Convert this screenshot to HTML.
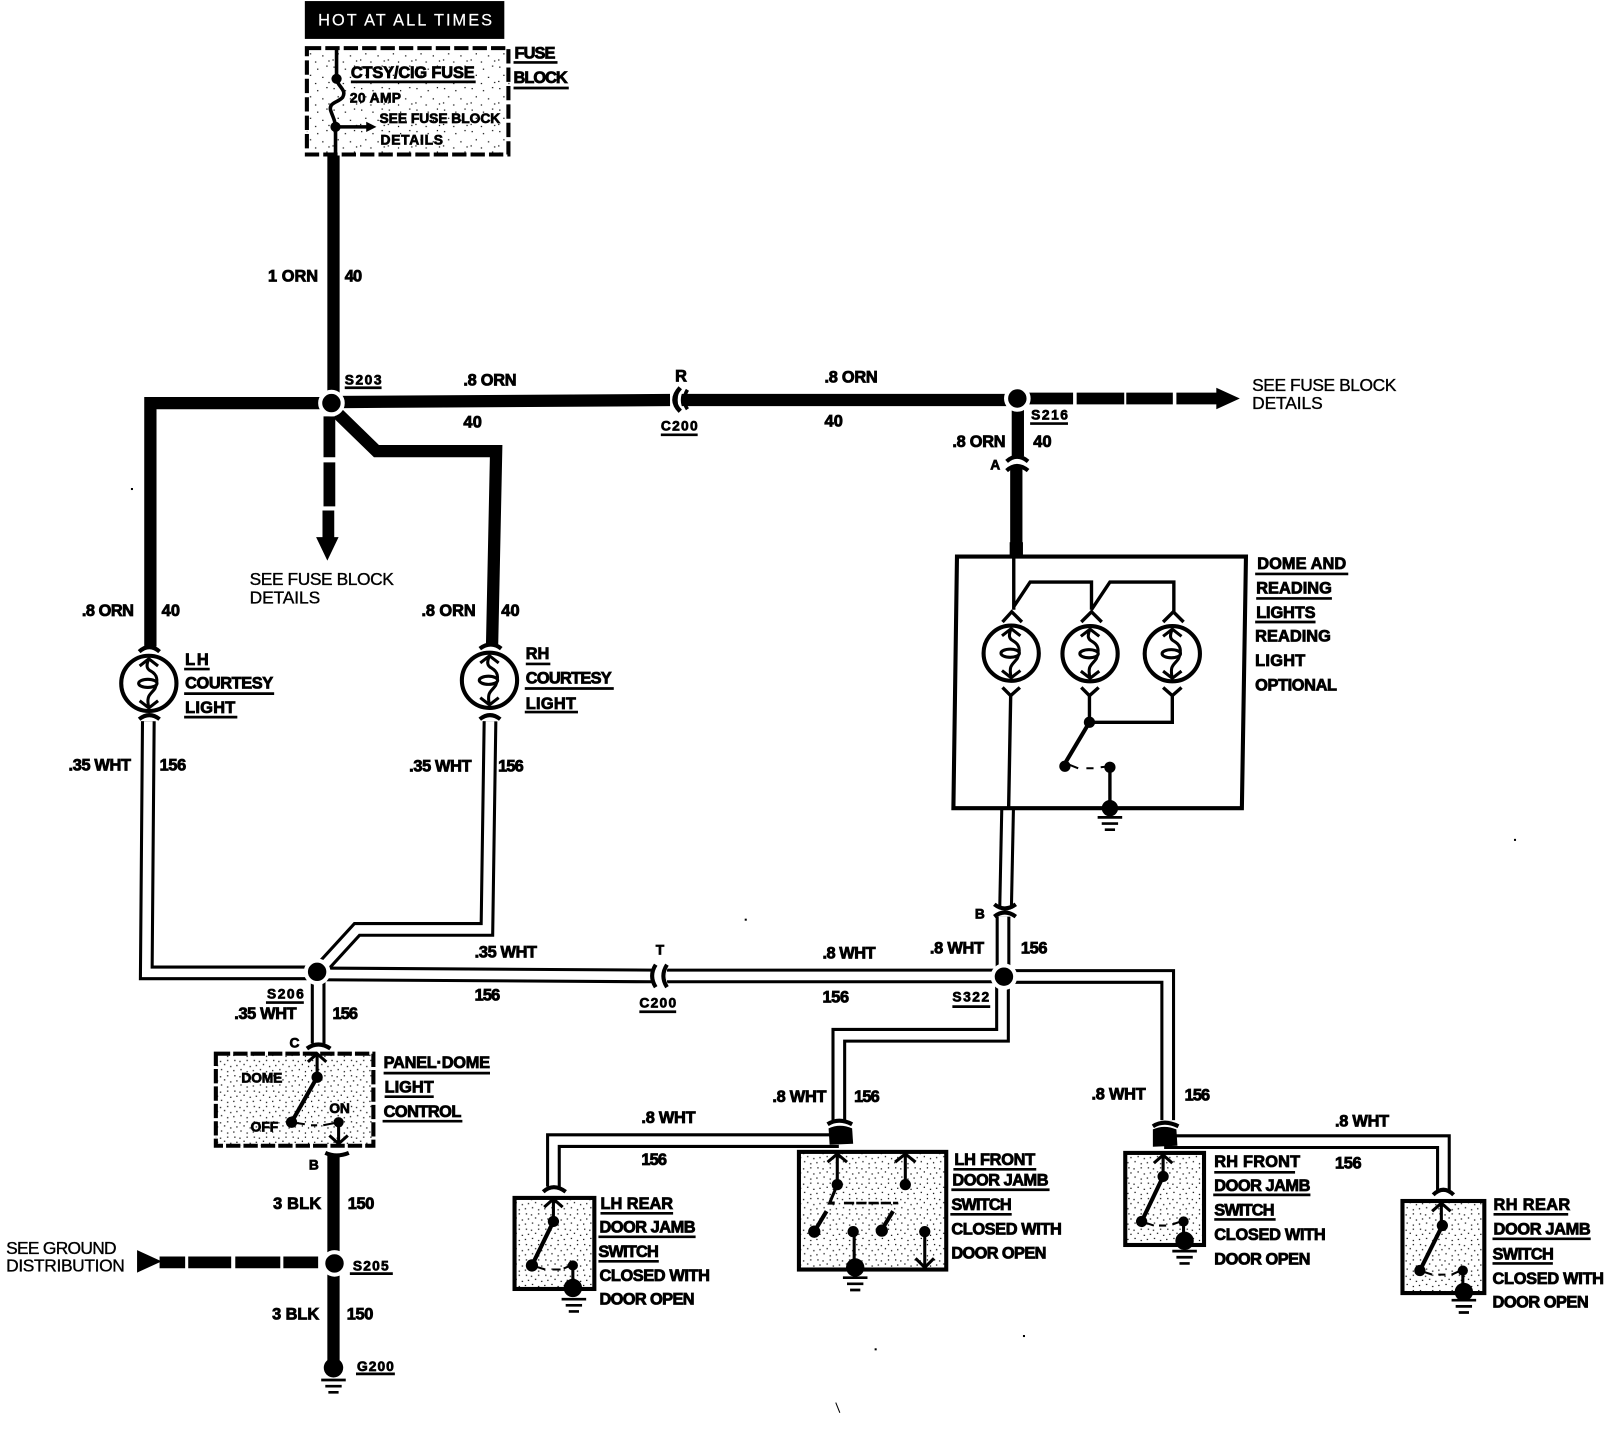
<!DOCTYPE html>
<html><head><meta charset="utf-8"><style>
html,body{margin:0;padding:0;background:#fff;width:1604px;height:1440px;overflow:hidden}
svg{display:block}
text{font-family:"Liberation Sans",sans-serif;font-weight:700;font-size:16px;fill:#000;stroke:#000;stroke-width:.8}
.s{font-size:13.5px;stroke-width:.7}
.r{font-weight:400;font-size:17px;stroke-width:.35}
.w{fill:#fff;stroke:#fff;stroke-width:.2;font-weight:400;font-size:16px}
</style></head><body>
<svg xmlns="http://www.w3.org/2000/svg" width="1604" height="1440" viewBox="0 0 1568 1407.6">
<defs>
<pattern id="st" width="19" height="15" patternUnits="userSpaceOnUse">
<g fill="#000"><rect x="1" y="1" width="1.2" height="1.2"/><rect x="6" y="2" width="1.2" height="1.2"/><rect x="13" y="1" width="1.2" height="1.2"/><rect x="3" y="6" width="1.2" height="1.2"/><rect x="10" y="5" width="1.2" height="1.2"/><rect x="16" y="7" width="1.2" height="1.2"/><rect x="0" y="11" width="1.2" height="1.2"/><rect x="7" y="10" width="1.2" height="1.2"/><rect x="13" y="12" width="1.2" height="1.2"/></g>
</pattern>
<pattern id="st2" width="27" height="21" patternUnits="userSpaceOnUse">
<g fill="#000"><rect x="2" y="2" width="1.2" height="1.2"/><rect x="13" y="4" width="1.2" height="1.2"/><rect x="22" y="1" width="1.2" height="1.2"/><rect x="6" y="10" width="1.2" height="1.2"/><rect x="18" y="12" width="1.2" height="1.2"/><rect x="1" y="16" width="1.2" height="1.2"/><rect x="11" y="18" width="1.2" height="1.2"/><rect x="24" y="17" width="1.2" height="1.2"/></g>
</pattern>
<g id="lamp">
<circle r="27" fill="#fff" stroke="#000" stroke-width="4"/>
<path d="M-9 -17L0 -24L9 -17M-9 17L0 24L9 17" fill="none" stroke="#000" stroke-width="3"/>
<path d="M0 -24C-3 -17 -2 -14 2 -12C9 -8 9 -2 6 5C2 11 -3 11 0 24" fill="none" stroke="#000" stroke-width="3"/>
<ellipse cx="-1" cy="0" rx="9" ry="4" fill="#fff" stroke="#000" stroke-width="3"/>
</g>
<g id="gnd" stroke="#000" stroke-width="2.6">
<path d="M-12 9H12M-8 15H8M-5 21H5"/>
</g>
</defs>

<!-- top black banner -->
<rect x="298" y="1" width="195" height="37" fill="#000"/>
<text class="w" x="311" y="25" textLength="170">HOT AT ALL TIMES</text>

<!-- stipple backgrounds -->
<rect x="300" y="47" width="198" height="104" fill="url(#st2)"/>
<rect x="211" y="1030" width="154" height="90" fill="url(#st)"/>
<rect x="503" y="1171" width="78" height="89" fill="url(#st)"/>
<rect x="781" y="1126" width="144" height="115" fill="url(#st)"/>
<rect x="1100" y="1127" width="77" height="90" fill="url(#st)"/>
<rect x="1371" y="1174" width="80" height="90" fill="url(#st)"/>

<!-- fuse block -->
<rect x="300" y="47" width="197" height="104" fill="none" stroke="#000" stroke-width="4" stroke-dasharray="14 4"/>
<path d="M329 47V78C331 85 339 88 335 95C331 100 322 100 323 107C325 114 328 118 328 124V155" fill="none" stroke="#000" stroke-width="3.5"/>
<circle cx="329" cy="77" r="5"/><circle cx="328" cy="124" r="5"/>
<path d="M328 124H360" stroke="#000" stroke-width="3.5"/><path d="M358 119L368 124L358 129Z"/>

<!-- thick black wires -->
<g fill="none" stroke="#000" stroke-width="12" stroke-linejoin="miter">
<path d="M326 152V394"/>
<path d="M326 394H147V632"/>
<path d="M330 404L368 441H485L481 632"/>
<path d="M326 393L655 391"/>
<path d="M660 391H995"/>
<path d="M995 398V446"/>
<path d="M993.5 456V545"/>
<path d="M326 1128V1226"/>
<path d="M326 1244V1330"/>
</g>
<g fill="none" stroke="#000" stroke-width="11.5">
<path d="M322 407V447M322 452V495M321 499V526"/>
<path d="M1005 389.5H1049M1052.5 389.5H1099M1101 389.5H1146.5M1150 389.5H1190"/>
<path d="M156 1234H181M184 1234H226M230 1234H274M277 1234H311"/>
</g>
<path d="M309 525H331L320 548Z"/>
<path d="M1189 379L1212 389.5L1189 400Z"/>
<path d="M134 1222L158 1233L134 1244Z"/>

<!-- connector shapes on thick wires -->
<path d="M668 378Q660 391 668 404" fill="none" stroke="#fff" stroke-width="3"/>
<path d="M665 379Q654 391 665 402" fill="none" stroke="#000" stroke-width="4.5"/>
<path d="M672 381Q666 391 672 400" fill="none" stroke="#000" stroke-width="3.5"/>
<g fill="none" stroke="#000" stroke-width="4">
<path d="M984 451Q994 442 1005 451"/>
<path d="M984 460Q994 451 1005 460"/>
<path d="M136 637Q146 628 156 637"/>
<path d="M469 634Q480 626 490 634"/>
</g>

<!-- double white wires -->
<g fill="none" stroke="#000" stroke-width="14.4" stroke-linejoin="miter">
<path d="M145 705L143 951H300"/>
<path d="M479 705L476 908.5H349L311 950"/>
<path d="M311 952L638 954"/>
<path d="M652 954H982"/>
<path d="M311 955V1020"/>
<path d="M985 790L983 888"/>
<path d="M980.5 896V955"/>
<path d="M981 954.5H1141.5V1095"/>
<path d="M980 955V1012H820V1095"/>
<path d="M820 1115H541V1160"/>
<path d="M1138 1116H1411V1165"/>
</g>
<g fill="none" stroke="#fff" stroke-width="8.4" stroke-linejoin="miter">
<path d="M145 705L143 951H300"/>
<path d="M479 705L476 908.5H349L311 950"/>
<path d="M311 952L638 954"/>
<path d="M652 954H982"/>
<path d="M311 955V1020"/>
<path d="M985 790L983 888"/>
<path d="M980.5 896V955"/>
<path d="M981 954.5H1141.5V1095"/>
<path d="M980 955V1012H820V1095"/>
<path d="M820 1115H541V1160"/>
<path d="M1138 1116H1411V1165"/>
</g>

<!-- flares on white wires -->
<path d="M643 942Q636 954 643 966M651 942Q644 954 651 966" fill="none" stroke="#fff" stroke-width="7"/>
<g fill="none" stroke="#000" stroke-width="4">
<path d="M641 943Q634 954 641 965"/>
<path d="M652 943Q645 954 652 965"/>
<path d="M136 703Q146 695 156 703"/>
<path d="M469 703Q479 695 489 703"/>
<path d="M972 884Q982 892 993 884"/>
<path d="M972 896Q982 888 993 896"/>
<path d="M300 1025Q311 1017 323 1025"/>
<path d="M318 1127Q329 1132 341 1127"/>
<path d="M531 1165Q541 1156 553 1165"/>
<path d="M809 1099Q820 1092 833 1099"/>
<path d="M1127 1101Q1138 1094 1152 1101"/>
<path d="M1401 1168Q1411 1158 1421 1168"/>
</g>

<!-- nodes with white halo -->
<g stroke="#fff" stroke-width="4" fill="#000">
<circle cx="324" cy="394" r="11"/>
<circle cx="994.5" cy="389.5" r="11"/>
<circle cx="310" cy="950" r="11"/>
<circle cx="981.4" cy="954.7" r="11"/>
<circle cx="327" cy="1235" r="11"/>
</g>
<circle cx="326" cy="1337" r="9.5"/>
<use href="#gnd" x="326" y="1340"/>
<path d="M810 1103Q821 1098 833 1103L834 1118L811 1119Z"/>
<path d="M1127 1104Q1138 1099 1150 1104L1151 1120L1127 1121Z"/>

<!-- courtesy lamps -->
<use href="#lamp" x="145.5" y="668"/>
<use href="#lamp" x="478.5" y="665"/>

<!-- dome box -->
<path d="M935.5 544H1218L1214 790H932Z" fill="#fff" stroke="#000" stroke-width="4"/>
<rect x="987" y="530" width="13" height="14"/>
<use href="#lamp" x="988.5" y="638.5"/>
<use href="#lamp" x="1065.6" y="639"/>
<use href="#lamp" x="1146" y="639"/>
<g fill="none" stroke="#000" stroke-width="3.3">
<path d="M991 544V596M991 593L1007 569H1067V596M1067 596L1085 569H1147.5V598"/>
<path d="M980 608L989 598L999 608M1057 608L1067 598L1077 608M1137 608L1147 598L1157 608"/>
<path d="M980 672L988 680L997 672M1057 672L1065 680L1074 672M1137 672L1146 680L1155 672"/>
<path d="M988 680L986 790M1065 680V706H1146V680"/>
<path d="M1085 750V790"/>
</g>
<path d="M1065 706L1040 748" stroke="#000" stroke-width="4"/>
<path d="M1044 747L1054 751M1062 751H1069M1076 750L1085 749" stroke="#000" stroke-width="2"/>
<circle cx="1065" cy="706" r="5.5"/><circle cx="1041" cy="749" r="5.5"/><circle cx="1085" cy="750" r="5.5"/>
<circle cx="1085" cy="790" r="8"/><use href="#gnd" x="1085" y="790"/>

<!-- panel dome switch -->
<rect x="211" y="1030" width="154" height="90" fill="none" stroke="#000" stroke-width="4" stroke-dasharray="14 3"/>
<g fill="none" stroke="#000" stroke-width="3">
<path d="M310 1030V1053M301 1038L310 1030L319 1038"/>
<path d="M331 1098V1120M322 1110L331 1118L340 1110"/>
</g>
<path d="M310 1053L285 1097" stroke="#000" stroke-width="4"/>
<path d="M285 1097L298 1099M304 1100H310M316 1100L331 1097" stroke="#000" stroke-width="2"/>
<circle cx="310" cy="1053" r="5.5"/><circle cx="285" cy="1097" r="5.5"/><circle cx="331" cy="1097" r="5"/>

<!-- LH rear -->
<rect x="503" y="1171" width="78" height="89" fill="none" stroke="#000" stroke-width="4"/>
<g fill="none" stroke="#000" stroke-width="3"><path d="M541 1172V1194M532 1180L541 1172L550 1180"/><path d="M560 1237V1255"/></g>
<path d="M541 1194L520 1237" stroke="#000" stroke-width="4"/>
<path d="M520 1237L533 1241M540 1241H548M551 1240L560 1236" stroke="#000" stroke-width="2"/>
<circle cx="541" cy="1194" r="5.5"/><circle cx="520" cy="1237" r="6"/><circle cx="560" cy="1237" r="5"/>
<circle cx="560" cy="1259" r="9"/><use href="#gnd" x="561" y="1261"/>

<!-- LH front -->
<rect x="781" y="1126" width="144" height="115" fill="none" stroke="#000" stroke-width="4"/>
<g fill="none" stroke="#000" stroke-width="3">
<path d="M818.5 1127V1158L811 1176H816M809 1136L818.5 1128L828 1136"/>
<path d="M885 1127V1158M875 1136L885 1128L895 1136"/>
<path d="M835 1204V1235"/>
<path d="M904 1204V1238M895 1230L904 1239L913 1230"/>
<path d="M825 1176H878" stroke-width="2.5" stroke-dasharray="10 2"/>
</g>
<path d="M796 1204L808 1184M862 1202L873 1184" stroke="#000" stroke-width="4"/>
<circle cx="818.5" cy="1158" r="5.5"/><circle cx="885" cy="1158" r="5.5"/><circle cx="796" cy="1204" r="6"/><circle cx="834" cy="1204" r="5.5"/><circle cx="862" cy="1203" r="6"/><circle cx="904" cy="1204" r="5.5"/>
<circle cx="836" cy="1239" r="9"/><use href="#gnd" x="836" y="1240"/>

<!-- RH front -->
<rect x="1100" y="1127" width="77" height="90" fill="none" stroke="#000" stroke-width="4"/>
<g fill="none" stroke="#000" stroke-width="3"><path d="M1137 1128V1150M1128 1137L1137 1129L1146 1137"/><path d="M1157 1194V1210"/></g>
<path d="M1137 1150L1116 1194" stroke="#000" stroke-width="4"/>
<path d="M1116 1194L1128 1198M1133 1198H1140M1146 1197L1157 1193" stroke="#000" stroke-width="2"/>
<circle cx="1137" cy="1150" r="5.5"/><circle cx="1116" cy="1194" r="5.5"/><circle cx="1157" cy="1194" r="5"/>
<circle cx="1158" cy="1213" r="9"/><use href="#gnd" x="1158" y="1214"/>

<!-- RH rear -->
<rect x="1371" y="1174" width="80" height="90" fill="none" stroke="#000" stroke-width="4"/>
<g fill="none" stroke="#000" stroke-width="3"><path d="M1409 1175V1198M1400 1184L1409 1176L1418 1184"/><path d="M1430 1242V1258"/></g>
<path d="M1410 1198L1388 1242" stroke="#000" stroke-width="4"/>
<path d="M1388 1242L1400 1246M1406 1246H1413M1419 1246L1430 1241" stroke="#000" stroke-width="2"/>
<circle cx="1410" cy="1198" r="5.5"/><circle cx="1388" cy="1242" r="5.5"/><circle cx="1430" cy="1242" r="5"/>
<circle cx="1431" cy="1263" r="9"/><use href="#gnd" x="1431" y="1262"/>

<!-- underlines -->
<g stroke="#000" stroke-width="2.6" fill="none">
<path d="M343 80H465M502 61H545M502 86H556M337 379H373M646 425H682M1007 414H1044"/>
<path d="M1227 561H1318M1228 585H1302M1227 608H1286"/>
<path d="M180 654H205M180 678H268M180 701H232M514 649H538M513 673H600M513 696H565"/>
<path d="M625 989H661M931 984H968M260 980H297"/>
<path d="M375 1049H479M376 1072H424M374 1096H452"/>
<path d="M342 1245H384M348 1343H386"/>
<path d="M587 1186H658M585 1209H680M585 1233H644"/>
<path d="M932 1143H1013M930 1163H1026M929 1187H989"/>
<path d="M1187 1146H1266M1186 1168H1281M1187 1192H1247"/>
<path d="M1460 1187H1533M1459 1211H1555M1459 1235H1518"/>
</g>

<!-- labels -->
<text x="503" y="57" textLength="40">FUSE</text>
<text x="502" y="81" textLength="53">BLOCK</text>
<text x="343" y="76" textLength="121">CTSY/CIG FUSE</text>
<text class="s" x="342" y="100" textLength="50">20 AMP</text>
<text class="s" x="371" y="120" textLength="118">SEE FUSE BLOCK</text>
<text class="s" x="372" y="141" textLength="61">DETAILS</text>
<text x="262" y="275" textLength="49">1 ORN</text>
<text x="337" y="275" textLength="17">40</text>
<text class="s" x="337" y="376" textLength="36">S203</text>
<text x="453" y="377" textLength="52">.8 ORN</text>
<text x="453" y="418" textLength="18">40</text>
<text x="660" y="373" textLength="11">R</text>
<text class="s" x="646" y="421" textLength="36">C200</text>
<text x="806" y="374" textLength="52">.8 ORN</text>
<text x="806" y="417" textLength="18">40</text>
<text class="s" x="1008" y="410" textLength="36">S216</text>
<text class="r" x="1224" y="382" textLength="141">SEE FUSE BLOCK</text>
<text class="r" x="1224" y="400" textLength="69">DETAILS</text>
<text x="931" y="437" textLength="52">.8 ORN</text>
<text x="1010" y="437" textLength="18">40</text>
<text class="s" x="968" y="459" textLength="10">A</text>
<text x="1229" y="556" textLength="87">DOME AND</text>
<text x="1228" y="580" textLength="74">READING</text>
<text x="1228" y="604" textLength="58">LIGHTS</text>
<text x="1227" y="627" textLength="74">READING</text>
<text x="1227" y="651" textLength="49">LIGHT</text>
<text x="1227" y="675" textLength="80">OPTIONAL</text>
<text class="r" x="244" y="572" textLength="141">SEE FUSE BLOCK</text>
<text class="r" x="244" y="590" textLength="69">DETAILS</text>
<text x="80" y="602" textLength="51">.8 ORN</text>
<text x="158" y="602" textLength="18">40</text>
<text x="412" y="602" textLength="53">.8 ORN</text>
<text x="490" y="602" textLength="18">40</text>
<text x="181" y="650" textLength="23">LH</text>
<text x="181" y="673" textLength="86">COURTESY</text>
<text x="181" y="697" textLength="49">LIGHT</text>
<text x="514" y="644" textLength="23">RH</text>
<text x="514" y="668" textLength="84">COURTESY</text>
<text x="514" y="693" textLength="49">LIGHT</text>
<text x="67" y="753" textLength="61">.35 WHT</text>
<text x="156" y="753" textLength="26">156</text>
<text x="400" y="754" textLength="61">.35 WHT</text>
<text x="487" y="754" textLength="25">156</text>
<text class="s" x="953" y="898" textLength="9">B</text>
<text x="909" y="932" textLength="53">.8 WHT</text>
<text x="998" y="932" textLength="26">156</text>
<text x="464" y="936" textLength="61">.35 WHT</text>
<text x="464" y="978" textLength="25">156</text>
<text class="s" x="641" y="933" textLength="10">T</text>
<text class="s" x="625" y="985" textLength="36">C200</text>
<text x="804" y="937" textLength="52">.8 WHT</text>
<text x="804" y="980" textLength="26">156</text>
<text class="s" x="931" y="979" textLength="36">S322</text>
<text class="s" x="261" y="976" textLength="36">S206</text>
<text x="229" y="996" textLength="61">.35 WHT</text>
<text x="325" y="996" textLength="25">156</text>
<text class="s" x="283" y="1024" textLength="9">C</text>
<text x="375" y="1044" textLength="104">PANEL·DOME</text>
<text x="376" y="1068" textLength="48">LIGHT</text>
<text x="375" y="1092" textLength="76">CONTROL</text>
<text class="s" x="236" y="1058" textLength="40">DOME</text>
<text class="s" x="322" y="1088" textLength="20">ON</text>
<text class="s" x="245" y="1106" textLength="27">OFF</text>
<text class="s" x="302" y="1143" textLength="9">B</text>
<text x="267" y="1182" textLength="47">3 BLK</text>
<text x="340" y="1182" textLength="26">150</text>
<text x="266" y="1290" textLength="46">3 BLK</text>
<text x="339" y="1290" textLength="26">150</text>
<text class="s" x="345" y="1242" textLength="35">S205</text>
<text class="s" x="349" y="1340" textLength="36">G200</text>
<text class="r" x="6" y="1226" textLength="108">SEE GROUND</text>
<text class="r" x="6" y="1243" textLength="116">DISTRIBUTION</text>
<text x="755" y="1077" textLength="53">.8 WHT</text>
<text x="835" y="1077" textLength="25">156</text>
<text x="627" y="1098" textLength="53">.8 WHT</text>
<text x="627" y="1139" textLength="25">156</text>
<text x="587" y="1182" textLength="71">LH REAR</text>
<text x="586" y="1205" textLength="94">DOOR JAMB</text>
<text x="585" y="1229" textLength="59">SWITCH</text>
<text x="586" y="1252" textLength="108">CLOSED WITH</text>
<text x="586" y="1275" textLength="93">DOOR OPEN</text>
<text x="933" y="1139" textLength="79">LH FRONT</text>
<text x="931" y="1159" textLength="94">DOOR JAMB</text>
<text x="930" y="1183" textLength="59">SWITCH</text>
<text x="930" y="1207" textLength="108">CLOSED WITH</text>
<text x="930" y="1230" textLength="93">DOOR OPEN</text>
<text x="1067" y="1075" textLength="53">.8 WHT</text>
<text x="1158" y="1076" textLength="25">156</text>
<text x="1305" y="1101" textLength="53">.8 WHT</text>
<text x="1305" y="1142" textLength="26">156</text>
<text x="1187" y="1141" textLength="84">RH FRONT</text>
<text x="1187" y="1164" textLength="94">DOOR JAMB</text>
<text x="1187" y="1188" textLength="59">SWITCH</text>
<text x="1187" y="1212" textLength="109">CLOSED WITH</text>
<text x="1187" y="1236" textLength="94">DOOR OPEN</text>
<text x="1460" y="1183" textLength="75">RH REAR</text>
<text x="1460" y="1207" textLength="95">DOOR JAMB</text>
<text x="1459" y="1231" textLength="60">SWITCH</text>
<text x="1459" y="1255" textLength="109">CLOSED WITH</text>
<text x="1459" y="1278" textLength="94">DOOR OPEN</text>

<!-- specks -->
<g fill="#000"><rect x="128" y="477" width="2" height="2"/><rect x="728" y="898" width="2" height="2"/><rect x="1480" y="820" width="2" height="2"/><rect x="855" y="1318" width="2" height="2"/><rect x="1000" y="1305" width="2" height="2"/></g>
<path d="M817 1371L821 1381" stroke="#000" stroke-width="1"/>
</svg>
</body></html>
